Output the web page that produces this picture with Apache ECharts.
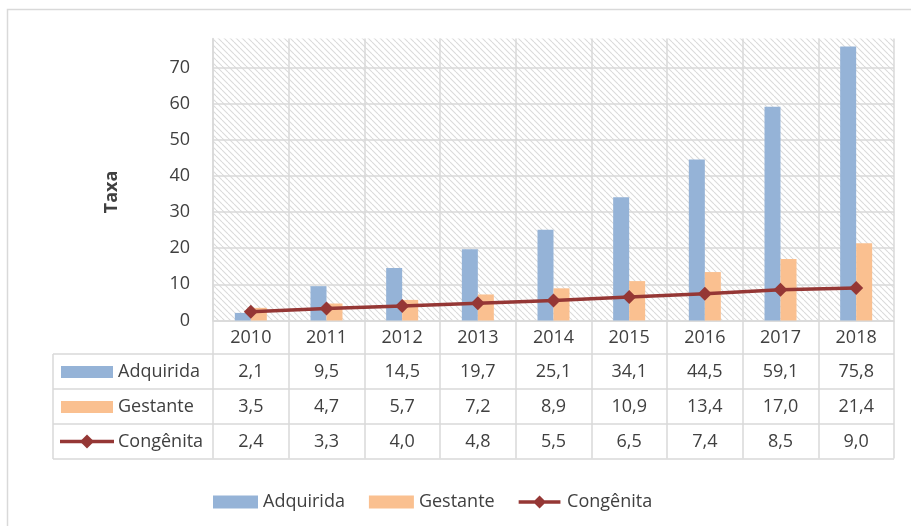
<!DOCTYPE html>
<html>
<head>
<meta charset="utf-8">
<script src="https://cdn.jsdelivr.net/npm/echarts@6/dist/echarts.min.js"></script>
<style>
  html, body { margin: 0; padding: 0; background: #fff; }
  #chart { width: 911px; height: 526px; }
</style>
</head>
<body>
<div id="chart"></div>
<script>
  // dados
  var anos = ['2010', '2011', '2012', '2013', '2014', '2015', '2016', '2017', '2018']
  var adquirida = [2.1, 9.5, 14.5, 19.7, 25.1, 34.1, 44.5, 59.1, 75.8]
  var gestante = [3.5, 4.7, 5.7, 7.2, 8.9, 10.9, 13.4, 17.0, 21.4]
  var congenita = [2.4, 3.3, 4.0, 4.8, 5.5, 6.5, 7.4, 8.5, 9.0]

  var azul = '#95B3D7'
  var laranja = '#FAC090'
  var vermelho = '#953735'
  var cinza = '#d9d9d9'
  var texto = '#404040'
  var fonte = 'Open Sans'

  function fmt(v) {
    return v.toFixed(1).replace('.', ',')
  }

  // fundo hachurado da área de plotagem
  var hatch = document.createElement('canvas')
  hatch.width = 6
  hatch.height = 6
  var ctx = hatch.getContext('2d')
  ctx.fillStyle = '#fff'
  ctx.fillRect(0, 0, 6, 6)
  ctx.strokeStyle = '#dadada'
  ctx.lineWidth = 1.1
  ;[-6, 0, 6].forEach(function(o) {
    ctx.beginPath()
    ctx.moveTo(o, 0)
    ctx.lineTo(o + 6, 6)
    ctx.stroke()
  })

  var chart = echarts.init(document.getElementById('chart'))

  // eixos extras = linhas da tabela de dados
  function linhaTabela(valores, margem) {
    return {
      type: 'category',
      gridIndex: 0,
      position: 'bottom',
      data: valores.map(fmt),
      axisLine: { show: false },
      axisTick: { show: false },
      axisLabel: {
        interval: 0,
        margin: margem,
        verticalAlign: 'middle',
        color: texto,
        fontFamily: fonte,
        fontSize: 18
      }
    }
  }

  // linhas horizontais da tabela
  var linhasTab = [354, 389, 424, 459].map(function(y) {
    return {
      type: 'line',
      shape: { x1: 53, y1: y, x2: 894, y2: y },
      style: { stroke: cinza, lineWidth: 1.5 }
    }
  })

  var legendaTab = [
    { type: 'line', shape: { x1: 53, y1: 354, x2: 53, y2: 459 }, style: { stroke: cinza, lineWidth: 1.5 } },
    { type: 'rect', shape: { x: 61, y: 366, width: 52, height: 12 }, style: { fill: azul } },
    { type: 'text', x: 118, y: 371.5, style: { text: 'Adquirida', fill: texto, font: '18px "Open Sans"', verticalAlign: 'middle' } },
    { type: 'rect', shape: { x: 61, y: 401, width: 52, height: 12 }, style: { fill: laranja } },
    { type: 'text', x: 118, y: 406.5, style: { text: 'Gestante', fill: texto, font: '18px "Open Sans"', verticalAlign: 'middle' } },
    { type: 'line', shape: { x1: 60, y1: 441.5, x2: 114, y2: 441.5 }, style: { stroke: vermelho, lineWidth: 3.5 } },
    { type: 'polygon', shape: { points: [[87, 434.5], [94, 441.5], [87, 448.5], [80, 441.5]] }, style: { fill: vermelho } },
    { type: 'text', x: 118, y: 441.5, style: { text: 'Congênita', fill: texto, font: '18px "Open Sans"', verticalAlign: 'middle' } },
    { type: 'rect', shape: { x: 7.5, y: 9.5, width: 1200, height: 1200 }, style: { fill: 'none', stroke: cinza, lineWidth: 1.5 }, z: -1 }
  ]

  // ícone da legenda: linha grossa + losango
  var iconeLinha = 'path://M0,5.2H45V8.8H0Z M22.5,0L29.5,7L22.5,14L15.5,7Z'

  var option = {
    animation: false,
    backgroundColor: '#fff',
    grid: {
      show: true,
      left: 213,
      right: 17,
      top: 38.5,
      bottom: 205.5,
      borderWidth: 0,
      backgroundColor: { image: hatch, repeat: 'repeat' }
    },
    legend: {
      left: 208,
      top: 488,
      itemWidth: 45,
      itemHeight: 13,
      itemGap: 24,
      textStyle: { color: texto, fontFamily: fonte, fontSize: 18 },
      data: [
        { name: 'Adquirida', icon: 'rect' },
        { name: 'Gestante', icon: 'rect' },
        { name: 'Congênita', icon: iconeLinha, itemStyle: { color: vermelho } }
      ]
    },
    xAxis: [
      {
        type: 'category',
        data: anos,
        axisLine: { lineStyle: { color: cinza, width: 1.5 } },
        axisTick: { show: true, length: 138, lineStyle: { color: cinza, width: 1.5 } },
        splitLine: { show: true, interval: 0, lineStyle: { color: cinza, width: 1.5 } },
        axisLabel: {
          interval: 0,
          margin: 17,
          verticalAlign: 'middle',
          color: texto,
          fontFamily: fonte,
          fontSize: 18
        }
      },
      linhaTabela(adquirida, 51),
      linhaTabela(gestante, 86),
      linhaTabela(congenita, 121)
    ],
    yAxis: {
      type: 'value',
      min: 0,
      max: 78,
      interval: 10,
      name: 'Taxa',
      nameLocation: 'middle',
      nameGap: 92,
      nameRotate: 90,
      nameTextStyle: { color: texto, fontFamily: fonte, fontSize: 18, fontWeight: 'bold', padding: [0, 25, 0, 0] },
      axisLine: { show: true, lineStyle: { color: cinza, width: 1.5 } },
      axisTick: { show: false },
      axisLabel: {
        margin: 23,
        color: texto,
        fontFamily: fonte,
        fontSize: 18,
        showMaxLabel: false,
        formatter: function(v) { return v % 10 === 0 ? v : '' }
      },
      splitLine: { show: true, showMaxLine: false, lineStyle: { color: cinza, width: 1.5 } }
    },
    series: [
      {
        name: 'Adquirida',
        type: 'bar',
        barWidth: 16,
        barGap: '0%',
        itemStyle: { color: azul },
        data: adquirida
      },
      {
        name: 'Gestante',
        type: 'bar',
        barWidth: 16,
        barGap: '0%',
        itemStyle: { color: laranja },
        data: gestante
      },
      {
        name: 'Congênita',
        type: 'line',
        symbol: 'diamond',
        symbolSize: 14,
        lineStyle: { color: vermelho, width: 3.5 },
        itemStyle: { color: vermelho },
        data: congenita
      }
    ],
    graphic: linhasTab.concat(legendaTab)
  }

  chart.setOption(option)
</script>
</body>
</html>
